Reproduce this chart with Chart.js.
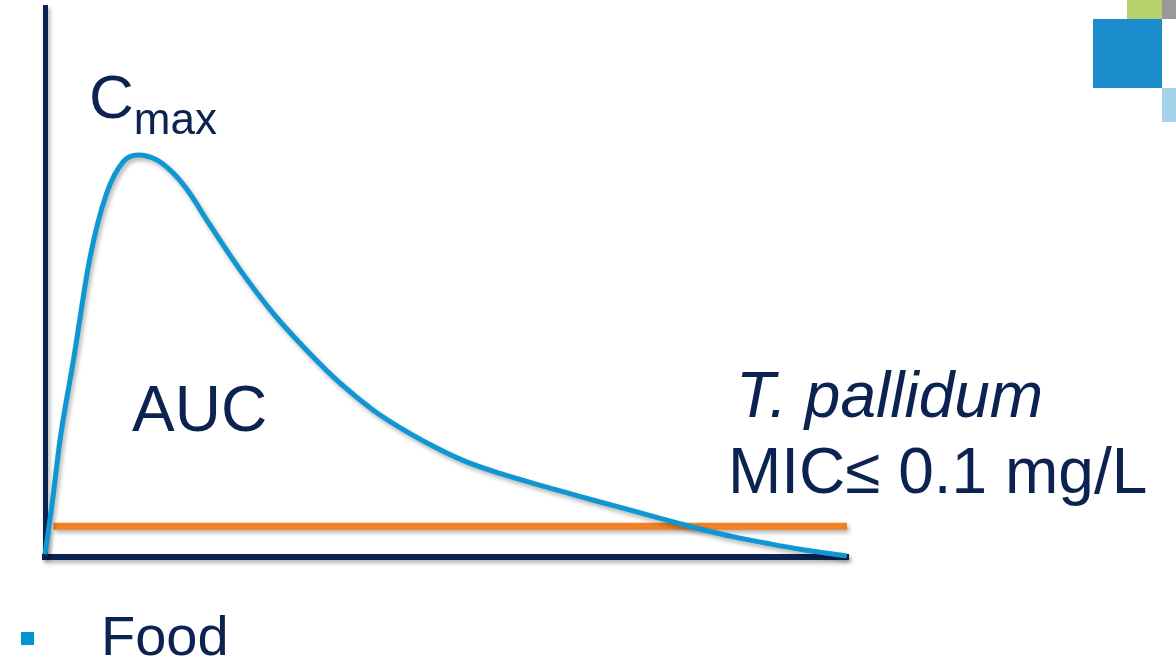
<!DOCTYPE html>
<html lang="en">
<head>
  <meta charset="UTF-8">
  <title>Cmax / AUC / MIC</title>
  <style>
    html, body { margin: 0; padding: 0; background: #fff; overflow: hidden; }
    body { width: 1176px; height: 659px; position: relative; font-family: "Liberation Sans", Arial, sans-serif; color: #0c2250; }
    #wrap { position: absolute; left: 0; top: 0; width: 1176px; height: 659px; }
    .lbl { position: absolute; font-size: 64px; line-height: 1; white-space: nowrap; }
    .sub { font-size: 44px; position: relative; top: 16px; }
    .sq { position: absolute; }
  </style>
</head>
<body>

  <div id="wrap"><canvas id="pkChart" width="1176" height="659"></canvas></div>

  <!-- labels -->
  <div class="lbl" style="left:89px; top:66px; font-size:62px;">C<span class="sub">max</span></div>
  <div class="lbl" style="left:132px; top:377px;">AUC</div>
  <div class="lbl" style="left:736px; top:363px; font-style:italic;">T. pallidum</div>
  <div class="lbl" style="left:728px; top:439px;">MIC≤ 0.1 mg/L</div>
  <div class="lbl" style="left:101px; top:608px; font-size:56px;">Food</div>
  <div class="sq" style="left:21px; top:632px; width:13px; height:13px; background:#0096d6;"></div>

  <!-- corner decoration -->
  <div class="sq" style="left:1127px; top:0; width:35px; height:19px; background:#b4d16c;"></div>
  <div class="sq" style="left:1162px; top:0; width:14px; height:19px; background:#999;"></div>
  <div class="sq" style="left:1093px; top:19px; width:69px; height:69px; background:#1b8dcc;"></div>
  <div class="sq" style="left:1162px; top:88px; width:14px; height:34px; background:#a4d3ea;"></div>

  <script src="https://cdn.jsdelivr.net/npm/chart.js@4.4.1/dist/chart.umd.min.js"></script>
  <script>
    // time after dose (h) and concentration (arbitrary units)
    const timePoints = [0, 0.2, 0.45, 0.85, 1.35, 1.84, 2.34, 2.79, 3.34, 3.83, 4.33, 4.83, 5.83, 6.82, 7.82, 8.82, 9.81, 10.81, 11.81, 12.6, 13.6, 14.59, 15.59, 16.59, 17.58, 18.58, 19.58, 20.56, 21.57, 22.57, 23.96];
    const concValues = [0.05, 0.91, 2.13, 3.58, 5.46, 6.61, 7.19, 7.31, 7.22, 6.98, 6.61, 6.13, 5.22, 4.43, 3.76, 3.16, 2.67, 2.28, 1.95, 1.73, 1.52, 1.34, 1.17, 1.0, 0.84, 0.67, 0.51, 0.37, 0.25, 0.14, 0.02];

    // MIC threshold line
    const micTimes = [0.25, 23.97];
    const micLevel = 0.56;

    const curve = timePoints.map((t, i) => ({ x: t, y: concValues[i] }));
    const micLine = micTimes.map(t => ({ x: t, y: micLevel }));

    // soft drop shadow under axes and lines
    const shadowPlugin = {
      id: 'shadow',
      beforeDraw(chart) {
        const ctx = chart.ctx;
        ctx.save();
        ctx.shadowColor = 'rgba(0,0,0,0.3)';
        ctx.shadowBlur = 4;
        ctx.shadowOffsetX = 2;
        ctx.shadowOffsetY = 3;
      },
      afterDraw(chart) {
        chart.ctx.restore();
      }
    };

    const axisColor = '#0c2250';

    new Chart(document.getElementById('pkChart').getContext('2d'), {
      type: 'line',
      data: {
        datasets: [
          {
            label: 'Concentration',
            data: curve,
            borderColor: '#0f97d3',
            borderWidth: 5,
            pointRadius: 0,
            cubicInterpolationMode: 'monotone',
            fill: false,
            clip: false,
          },
          {
            label: 'MIC',
            data: micLine,
            borderColor: '#f28123',
            borderWidth: 7,
            pointRadius: 0,
            borderCapStyle: 'butt',
            fill: false,
            clip: false,
          },
        ],
      },
      options: {
        responsive: false,
        animation: false,
        events: [],
        layout: {
          padding: { left: 37, top: 7, right: 328, bottom: 94 },
        },
        scales: {
          x: {
            type: 'linear',
            min: 0,
            max: 24,
            grid: { display: false },
            ticks: { display: false },
            border: { display: true, color: axisColor, width: 6 },
          },
          y: {
            min: 0,
            max: 10,
            grid: { display: false },
            ticks: { display: false },
            border: { display: true, color: axisColor, width: 5 },
          },
        },
        plugins: {
          legend: { display: false },
          tooltip: { enabled: false },
        },
      },
      plugins: [shadowPlugin],
    });
  </script>
</body>
</html>
